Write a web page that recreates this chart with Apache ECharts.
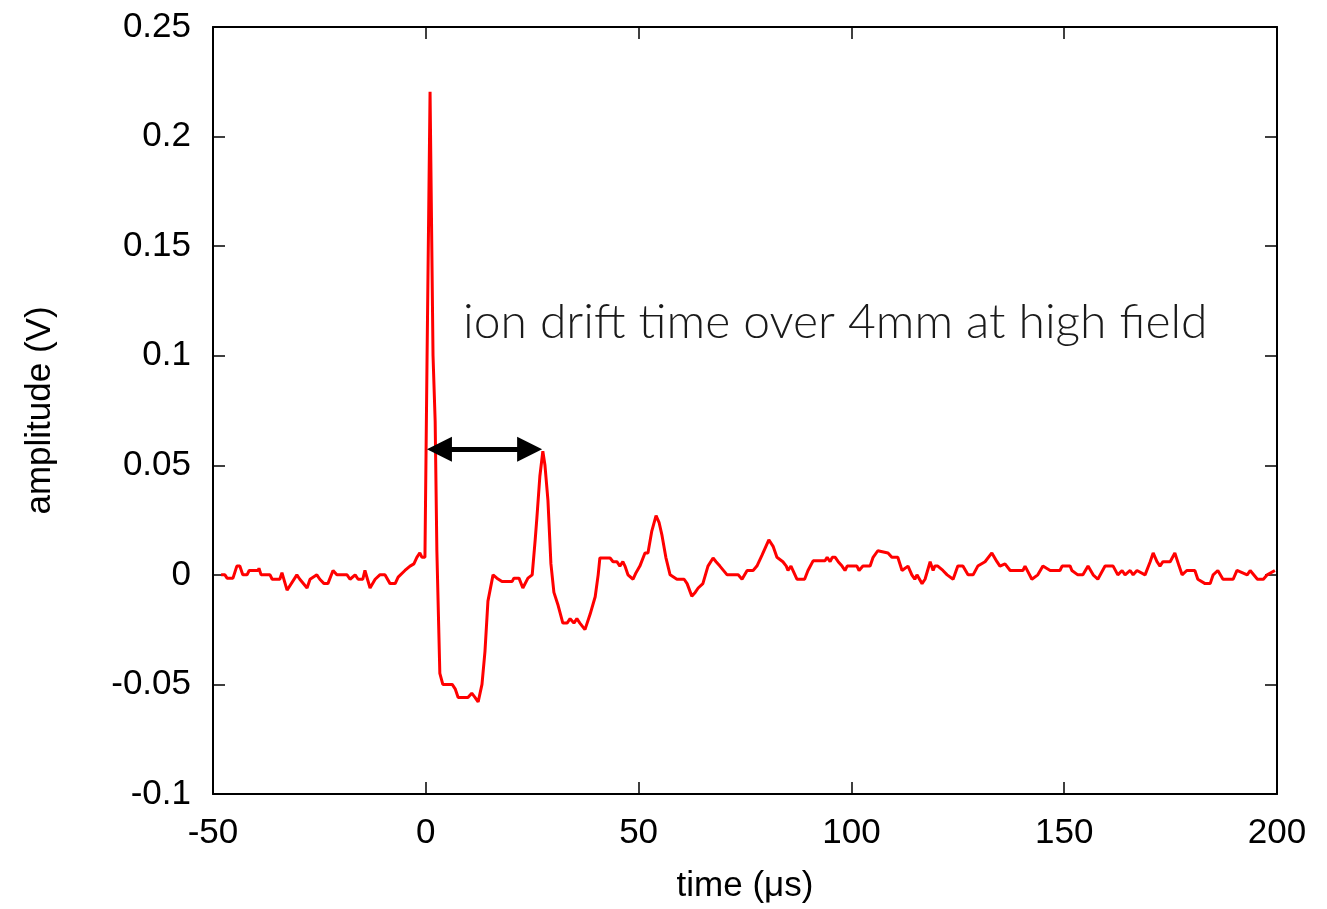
<!DOCTYPE html>
<html>
<head>
<meta charset="utf-8">
<script src="https://cdn.jsdelivr.net/npm/echarts@6/dist/echarts.min.js"></script>
<style>
  html, body { margin: 0; padding: 0; background: #fff; }
  #chart { width: 1327px; height: 909px; }
</style>
</head>
<body>
<div id="chart"></div>
<script>
// ---- data ----
const timeUs = [
  -48.1,-47.2,-46.7,-45.3,-44.4,-43.7,-43.0,-42.0,-41.5,-39.4,-39.2,-38.7,-36.6,-36.1,-34.3,-33.8,-32.6,-30.3,-29.6,-27.9,
  -27.2,-25.6,-24.9,-23.9,-23.0,-21.8,-20.9,-18.5,-17.8,-16.6,-15.9,-14.8,-14.3,-13.1,-11.9,-10.8,-9.6,-8.4,-7.2,-6.5,
  -4.9,-3.7,-2.8,-2.1,-1.4,-0.9,-0.2,0.3,1.0,1.7,2.2,2.6,3.3,4.0,6.2,6.9,7.6,9.9,10.8,11.6,
  12.3,13.2,13.9,14.6,15.8,16.7,17.9,20.3,20.7,21.9,22.8,24.0,25.0,25.7,26.1,26.8,27.5,28.0,28.7,29.4,
  30.1,31.1,32.2,33.2,33.9,34.8,35.5,36.2,37.4,38.6,39.8,40.5,40.9,43.3,44.0,44.9,45.6,46.3,46.8,47.5,
  48.7,49.4,50.3,51.5,52.2,53.1,54.1,54.8,55.5,56.4,57.4,59.0,60.7,61.4,62.5,63.3,64.0,65.1,66.3,67.5,
  68.2,69.1,70.8,73.4,74.3,75.5,76.9,77.8,79.0,80.6,81.6,82.5,83.9,84.7,85.1,85.8,87.2,89.0,89.8,91.0,
  93.8,94.3,95.0,95.5,96.2,96.9,97.8,98.5,99.0,101.3,101.8,102.7,104.4,105.1,106.2,108.6,109.5,110.9,111.9,113.3,
  114.2,114.9,115.4,116.6,117.3,118.5,119.2,119.6,120.3,121.5,122.5,123.9,125.0,126.2,127.4,128.6,129.7,131.4,133.0,134.2,
  134.9,136.1,137.3,140.3,140.8,142.4,143.8,145.0,146.7,149.0,149.5,151.4,151.8,153.2,154.4,155.6,156.8,157.9,159.6,161.5,
  162.6,163.6,164.3,165.5,166.2,167.1,169.0,170.2,170.9,171.8,172.5,173.2,174.9,176.0,177.0,177.7,178.8,180.7,181.4,183.1,
  184.3,185.0,186.1,187.3,189.7,190.6,193.0,193.7,195.4,196.8,197.7,199.5
];
const amplitudeV = [
  0,0,-0.0015,-0.0015,0.004,0.004,0,0,0.002,0.002,0.003,0,0,-0.002,-0.002,0.001,-0.007,0,-0.002,-0.006,
  -0.002,0,-0.002,-0.004,-0.004,0.002,0,0,-0.002,0,-0.002,-0.002,0.002,-0.006,-0.002,0,0,-0.004,-0.004,-0.001,
  0.002,0.004,0.005,0.008,0.010,0.008,0.008,0.10,0.2205,0.10,0.07,0.011,-0.045,-0.050,-0.050,-0.052,-0.056,-0.056,-0.054,-0.056,
  -0.058,-0.050,-0.035,-0.012,0,-0.0015,-0.003,-0.003,-0.0015,-0.0015,-0.006,-0.0015,0,0.016,0.026,0.045,0.0564,0.050,0.034,0.005,
  -0.008,-0.014,-0.022,-0.022,-0.020,-0.022,-0.020,-0.022,-0.025,-0.018,-0.010,0,0.0077,0.0077,0.006,0.006,0.004,0.006,0.004,0,
  -0.002,0.001,0.004,0.010,0.010,0.020,0.027,0.024,0.018,0.008,0,-0.002,-0.002,-0.004,-0.0097,-0.008,-0.006,-0.004,0.004,0.0077,
  0.006,0.004,0,0,-0.002,0.002,0.002,0.004,0.009,0.016,0.013,0.008,0.006,0.004,0.002,0.004,-0.002,-0.002,0.002,0.0064,
  0.0064,0.008,0.006,0.008,0.008,0.006,0.004,0.002,0.004,0.004,0.002,0.004,0.004,0.008,0.011,0.010,0.008,0.008,0.002,0.004,
  0,-0.002,0,-0.004,-0.002,0.006,0.002,0.004,0.004,0.002,0,-0.002,0.004,0.004,0,0,0.004,0.006,0.010,0.006,
  0.004,0.005,0.002,0.002,0.004,-0.002,0,0.004,0.002,0.002,0.004,0.004,0.002,0,0,0.004,0,-0.002,0.004,0.004,
  0,0.002,0,0.002,0,0.002,0,0.006,0.010,0.006,0.004,0.006,0.006,0.010,0.004,0,0.002,0.002,-0.002,-0.004,
  -0.004,0,0.002,-0.002,-0.002,0.002,0,0.002,-0.002,-0.002,0,0.002
];
const xTicks = [-50, 0, 50, 100, 150, 200];
const yTicks = [-0.1, -0.05, 0, 0.05, 0.1, 0.15, 0.2, 0.25];
const arrowStart = [3.2, 0.0573];
const arrowEnd = [24.4, 0.0573];
const annotation = 'ion drift time over 4mm at high field';
const xName = 'time (μs)';
const yName = 'amplitude (V)';

// ---- chart ----
const seriesData = timeUs.map((t, i) => [t, amplitudeV[i]]);
const fmtY = v => String(Math.round(v * 100) / 100);
const labelFont = { fontFamily: 'Liberation Sans, Arial, sans-serif', fontSize: 35, color: '#000' };

const chart = echarts.init(document.getElementById('chart'), null, { renderer: 'canvas' });
const xCommon = {
  type: 'value', min: xTicks[0], max: xTicks[xTicks.length - 1], interval: 50,
  splitLine: { show: false },
  axisLine: { show: true, onZero: false, lineStyle: { color: '#000', width: 2 } },
  axisTick: { show: true, inside: true, length: 12, lineStyle: { color: '#000', width: 1.5 } }
};
const yCommon = {
  type: 'value', min: yTicks[0], max: yTicks[yTicks.length - 1], interval: 0.05,
  splitLine: { show: false },
  axisLine: { show: true, onZero: false, lineStyle: { color: '#000', width: 2 } },
  axisTick: { show: true, inside: true, length: 12, lineStyle: { color: '#000', width: 1.5 } }
};

chart.setOption({
  animation: false,
  backgroundColor: '#fff',
  grid: { left: 213, right: 50, top: 27, bottom: 112, containLabel: false },
  xAxis: [
    Object.assign({}, xCommon, {
      position: 'bottom',
      axisLabel: Object.assign({ margin: 22 }, labelFont),
      name: xName, nameLocation: 'middle', nameGap: 75,
      nameTextStyle: Object.assign({}, labelFont)
    }),
    Object.assign({}, xCommon, { position: 'top', axisLabel: { show: false } })
  ],
  yAxis: [
    Object.assign({}, yCommon, {
      position: 'left',
      axisLabel: Object.assign({ margin: 22, formatter: fmtY }, labelFont),
      name: yName, nameLocation: 'middle', nameGap: 155, nameRotate: 90,
      nameTextStyle: Object.assign({}, labelFont)
    }),
    Object.assign({}, yCommon, { position: 'right', axisLabel: { show: false } })
  ],
  series: [{
    type: 'line',
    data: seriesData,
    xAxisIndex: 0, yAxisIndex: 0,
    showSymbol: false,
    lineStyle: { color: '#ff0000', width: 3 },
    itemStyle: { color: '#ff0000' },
    markLine: {
      silent: true,
      symbol: ['triangle', 'triangle'],
      symbolSize: [25, 25],
      label: { show: false },
      lineStyle: { color: '#000', width: 5, type: 'solid' },
      data: [[{ coord: arrowStart }, { coord: arrowEnd }]]
    }
  }],
  graphic: [{
    type: 'text',
    x: 463, y: 323,
    style: {
      text: annotation,
      fontFamily: 'Lato, Open Sans, sans-serif',
      fontWeight: 300,
      fontSize: 48,
      fill: '#1a1a1a',
      verticalAlign: 'middle'
    }
  }]
});
</script>
</body>
</html>
